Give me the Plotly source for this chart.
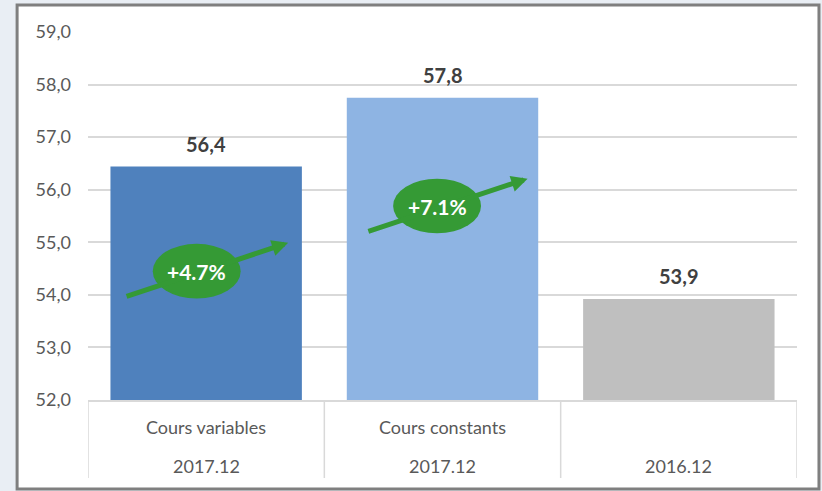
import plotly.graph_objects as go

# ---- data ----
series_labels = ["Cours variables", "Cours constants", ""]
period_labels = ["2017.12", "2017.12", "2016.12"]
values = [56.44, 57.75, 53.92]
bar_colors = ["#4f81bd", "#8eb4e3", "#bfbfbf"]
y_ticks = [52, 53, 54, 55, 56, 57, 58, 59]

BASE = values[2]
growth = [(values[0] / BASE - 1) * 100, (values[1] / BASE - 1) * 100]

GREEN = "#359a35"
FONT = "Lato"
TXT = "#595959"

x = list(range(len(values)))

fig = go.Figure()
fig.add_trace(go.Bar(
    x=x, y=values, width=0.81, marker=dict(color=bar_colors, line=dict(width=0)),
    hoverinfo="skip", showlegend=False,
))

annotations = []
# value labels
for i, v in enumerate(values):
    annotations.append(dict(
        x=i, y=v, xref="x", yref="y", text=f"<b>{v:.1f}</b>".replace(".", ","),
        showarrow=False, yanchor="bottom", yshift=9,
        font=dict(family=FONT, size=20, color="#404040"),
    ))

# category label rows
for i, (s, p) in enumerate(zip(series_labels, period_labels)):
    annotations.append(dict(x=i, y=-0.073, xref="x", yref="paper", text=s, showarrow=False,
                            font=dict(family=FONT, size=18, color=TXT), yanchor="middle"))
    annotations.append(dict(x=i, y=-0.179, xref="x", yref="paper", text=p, showarrow=False,
                            font=dict(family=FONT, size=18, color=TXT), yanchor="middle"))

# growth arrows and badges (tail, head, badge centre in data coordinates)
arrow_specs = [
    dict(tail=(-0.343, 53.96), head=(0.347, 54.99), center=(-0.04, 54.45)),
    dict(tail=(0.68, 55.2), head=(1.36, 56.21), center=(0.977, 55.69)),
]
shapes = []
for spec in arrow_specs:
    annotations.append(dict(
        x=spec["head"][0], y=spec["head"][1], ax=spec["tail"][0], ay=spec["tail"][1],
        xref="x", yref="y", axref="x", ayref="y",
        text="", showarrow=True, arrowhead=2, arrowsize=0.65, arrowwidth=5,
        arrowcolor=GREEN, standoff=0, startstandoff=0,
    ))

for k, spec in enumerate(arrow_specs):
    cx, cy = spec["center"]
    shapes.append(dict(type="circle", xref="x", yref="y",
                       x0=cx - 0.186, x1=cx + 0.186, y0=cy - 0.52, y1=cy + 0.52,
                       fillcolor=GREEN, line=dict(width=0), layer="above"))
    annotations.append(dict(
        x=cx, y=cy, xref="x", yref="y", text=f"<b>+{growth[k]:.1f}%</b>",
        showarrow=False, font=dict(family=FONT, size=21, color="white"),
    ))

# outer frame
shapes.append(dict(type="rect", xref="paper", yref="paper", x0=-0.1, x1=1.031, y0=-0.2418, y1=1.0734,
                   fillcolor="white", line=dict(color="#7f7f7f", width=3), layer="below"))
# category dividers
for xv in [-0.5, 0.5, 1.5, 2.5]:
    shapes.append(dict(type="line", xref="x", yref="paper", x0=xv, x1=xv, y0=0, y1=-0.212,
                       line=dict(color="#d9d9d9", width=1.5), layer="below"))

fig.update_layout(
    width=822, height=491,
    margin=dict(l=88, r=25, t=32, b=91),
    paper_bgcolor="#e9eef4", plot_bgcolor="white",
    separators=", ",
    font=dict(family=FONT, color=TXT),
    xaxis=dict(range=[-0.5, 2.5], showticklabels=False, showgrid=False, zeroline=False,
               showline=True, linecolor="#d9d9d9", linewidth=1.5, fixedrange=True),
    yaxis=dict(range=[52, 59], tickvals=y_ticks, tickformat=".1f", showgrid=True,
               gridcolor="#d9d9d9", gridwidth=1.5, zeroline=False, ticks="",
               ticklabelstandoff=16, tickfont=dict(family=FONT, size=18, color=TXT), fixedrange=True),
    annotations=annotations, shapes=shapes, bargap=0.19,
)

fig.write_html("out.html", config={"displayModeBar": False},
               post_script="document.body.style.margin='0';document.body.style.overflow='hidden';")
